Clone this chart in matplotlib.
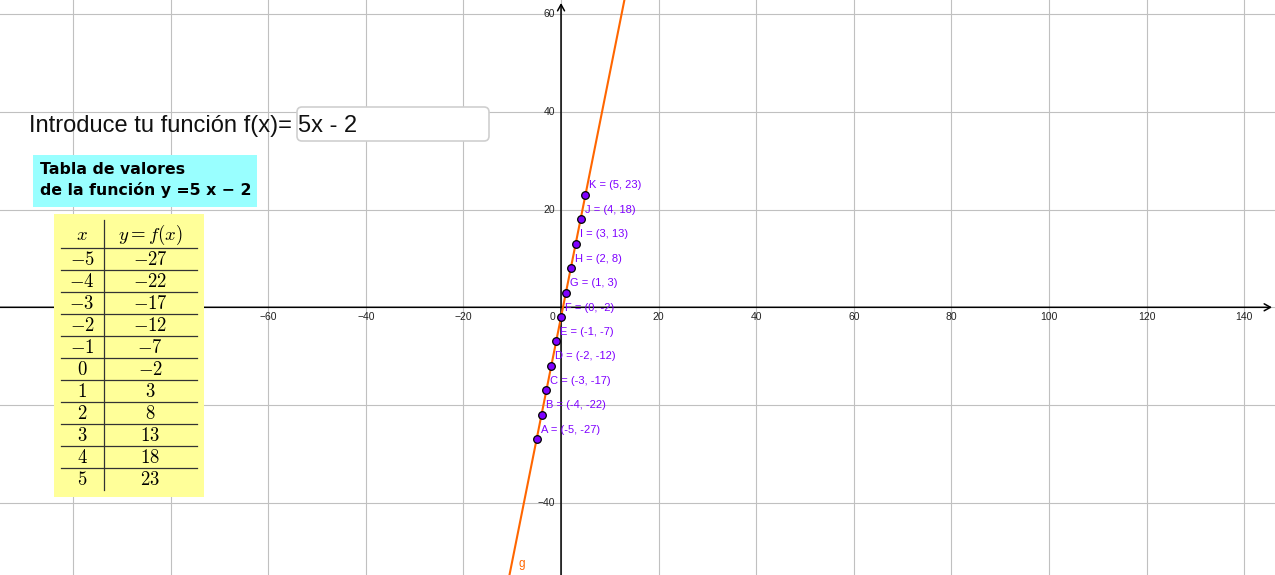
import matplotlib
matplotlib.use('Agg')
import matplotlib.pyplot as plt
from matplotlib.patches import Rectangle, FancyBboxPatch

plt.rcParams['mathtext.fontset'] = 'cm'

# data: f(x) = 5x - 2 sampled at integers
xs = [-5, -4, -3, -2, -1, 0, 1, 2, 3, 4, 5]
ys = [-27, -22, -17, -12, -7, -2, 3, 8, 13, 18, 23]
names = ['A', 'B', 'C', 'D', 'E', 'F', 'G', 'H', 'I', 'J', 'K']
slope, intercept = 5, -2

# -100 and -80 sit under the table in the reference, so they are not shown
xticks_lab = [-60, -40, -20, 20, 40, 60, 80, 100, 120, 140]
yticks_lab = [60, 40, 20, -40]
grid_x = [-100, -80, -60, -40, -20, 0, 20, 40, 60, 80, 100, 120, 140]
grid_y = [-40, -20, 0, 20, 40, 60]

xmin, xmax = -114.96, 146.3
ymin, ymax = -54.82, 62.93

W, H = 1275, 575
fig = plt.figure(figsize=(W / 100, H / 100), dpi=100)
ax = fig.add_axes([0, 0, 1, 1])
ax.set_xlim(xmin, xmax)
ax.set_ylim(ymin, ymax)
ax.axis('off')

grey = '#C0C0C0'
for g in grid_x:
    ax.axvline(g, color=grey, lw=0.8, zorder=0)
for g in grid_y:
    ax.axhline(g, color=grey, lw=0.8, zorder=0)

# axes with arrows
arr = dict(arrowstyle='->,head_length=0.45,head_width=0.25', color='black', lw=1.1,
           shrinkA=0, shrinkB=0)
ax.annotate('', xy=(1272 / W, 0), xytext=(0, 0),
            xycoords=('axes fraction', 'data'), textcoords=('axes fraction', 'data'),
            arrowprops=arr, zorder=2)
ax.annotate('', xy=(0, 1 - 3 / H), xytext=(0, 0),
            xycoords=('data', 'axes fraction'), textcoords=('data', 'axes fraction'),
            arrowprops=arr, zorder=2)

tfont = dict(fontsize=7.5, color='#222222', family='Liberation Sans')
for v in xticks_lab:
    ax.annotate(f'{v}'.replace('-', '\u2212'), xy=(v, 0), xytext=(0, -10),
                textcoords='offset pixels', ha='center', va='center', **tfont)
for v in yticks_lab:
    ax.annotate(f'{v}'.replace('-', '\u2212'), xy=(0, v), xytext=(-6, 0),
                textcoords='offset pixels', ha='right', va='center', **tfont)
ax.annotate('0', xy=(0, 0), xytext=(-6, -10), textcoords='offset pixels',
            ha='right', va='center', **tfont)

# line g
orange = '#FF6600'
ax.plot([xmin, xmax], [slope * xmin + intercept, slope * xmax + intercept],
        color=orange, lw=1.5, zorder=3)
ax.annotate('g', xy=(-8.0, -52.5), color=orange, fontsize=8.5,
            family='Liberation Sans', ha='center', va='center')

# points
purple = '#7F00FF'
ax.plot(xs, ys, 'o', ms=5.5, mfc=purple, mec='black', mew=0.9, zorder=4)
for n, x, y in zip(names, xs, ys):
    ax.annotate(f'{n} = ({x}, {y})', xy=(x, y), xytext=(4, 9.5),
                textcoords='offset pixels', ha='left', va='center',
                color=purple, fontsize=8, family='Liberation Sans', zorder=5)

# overlay in screen pixels
ov = fig.add_axes([0, 0, 1, 1])
ov.set_xlim(0, W)
ov.set_ylim(H, 0)
ov.axis('off')
ov.patch.set_alpha(0)

ov.text(29, 126, 'Introduce tu función f(x)=', fontsize=17, family='Liberation Sans',
        ha='left', va='center', color='#111111')
ov.add_patch(FancyBboxPatch((297, 107), 192, 34, boxstyle='round,pad=0,rounding_size=5',
                            fc='white', ec='#CFCFCF', lw=1.2))
ov.text(298, 126, '5x - 2', fontsize=17, family='Liberation Sans',
        ha='left', va='center', color='#111111')

ov.add_patch(Rectangle((33, 155), 224, 52, fc='#99FFFF', ec='none'))
ov.text(40, 169.5, 'Tabla de valores', fontsize=11.3, fontweight='bold',
        family='DejaVu Sans', ha='left', va='center')
ov.text(40, 190, 'de la función y =5 x \u2212 2', fontsize=11.3, fontweight='bold',
        family='DejaVu Sans', ha='left', va='center')

# table of values
ov.add_patch(Rectangle((54, 214), 150, 283, fc='#FFFF99', ec='none'))
cx1, cx2 = 82, 150
row0, rh = 259.3, 22
ov.text(cx1, 235, '$x$', fontsize=13.5, ha='center', va='center')
ov.text(cx2, 235, '$y = f(x)$', fontsize=13.5, ha='center', va='center')
ov.plot([61, 197], [247.7, 247.7], color='#333333', lw=0.9)
ov.plot([104.3, 104.3], [220, 490], color='#333333', lw=0.9)
for i, (x, y) in enumerate(zip(xs, ys)):
    yc = row0 + rh * i
    ov.text(cx1, yc, f'${x}$', fontsize=13.5, ha='center', va='center')
    ov.text(cx2, yc, f'${y}$', fontsize=13.5, ha='center', va='center')
    if i < len(xs) - 1:
        ov.plot([61, 197], [yc + 11, yc + 11], color='#333333', lw=0.9)

fig.savefig('out.png', dpi=100)
